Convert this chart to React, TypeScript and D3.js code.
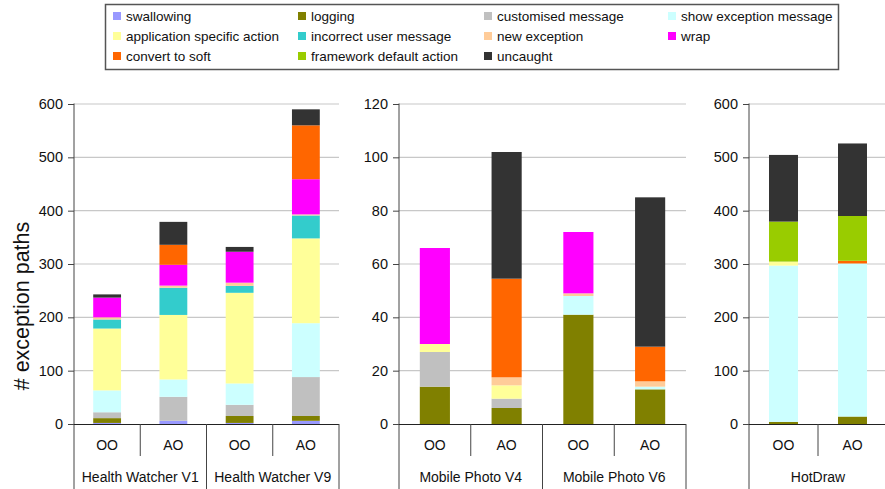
import React, { useRef, useEffect } from 'react'
import * as d3 from 'd3'

// series, bottom to top of each stack
const seriesNames = [
  'swallowing', 'logging', 'customised message', 'show exception message',
  'application specific action', 'incorrect user message', 'new exception', 'wrap',
  'convert to soft', 'framework default action', 'uncaught'
]
const seriesColors = [
  '#9999ff', '#808000', '#c0c0c0', '#ccffff',
  '#ffff99', '#33cccc', '#ffcc99', '#ff00ff',
  '#ff6600', '#99cc00', '#333333'
]

// bars: HW V1 OO/AO, HW V9 OO/AO, MP V4 OO/AO, MP V6 OO/AO, HotDraw OO/AO
const barLabels = ['OO', 'AO', 'OO', 'AO', 'OO', 'AO', 'OO', 'AO', 'OO', 'AO']
const groupLabels = ['Health Watcher V1', 'Health Watcher V9', 'Mobile Photo V4', 'Mobile Photo V6', 'HotDraw']

const swallowing = [2, 6, 2, 6, 0, 0, 0, 0, 0, 0]
const logging = [9, 0, 13, 9, 14, 6, 41, 13, 4, 14]
const customised = [11, 45, 21, 73, 13, 3.5, 0, 0, 0, 0]
const showException = [41, 32.5, 40, 101, 0, 0, 7, 1, 293, 287]
const appSpecific = [116, 121, 170, 159, 3, 5, 0, 0, 7.5, 0]
const incorrectUser = [17, 51, 13, 43, 0, 0, 0, 0, 0, 0]
const newException = [4, 4, 6, 2, 0, 3, 1, 2, 0, 0]
const wrap = [37, 39, 58, 66, 36, 0, 23, 0, 0, 0]
const convertToSoft = [0, 37.5, 0, 101, 0, 37, 0, 13, 0, 5]
const frameworkDefault = [0, 0, 0, 0, 0, 0, 0, 0, 75, 84]
const uncaught = [6, 43, 9, 30, 0, 47.5, 0, 56, 125, 136]

const seriesValues = [
  swallowing, logging, customised, showException, appSpecific, incorrectUser,
  newException, wrap, convertToSoft, frameworkDefault, uncaught
]

const yMax = [600, 120, 600]
const yStep = [100, 20, 100]

// layout
const W = 885
const H = 489
const plotTop = 104
const plotBottom = 424
const font = '"Liberation Sans", Arial, Helvetica, sans-serif'
const panels = [
  { first: 0, count: 4, x0: 74, x1: 339 },
  { first: 4, count: 4, x0: 399, x1: 686 },
  { first: 8, count: 2, x0: 749, x1: 887 }
]

export default function App() {
  const ref = useRef<SVGSVGElement>(null)

  useEffect(() => {
    const svg = d3.select(ref.current)
    svg.selectAll('*').remove()

    // one row per bar for the stack
    const table = barLabels.map((_, i) => {
      const row: any = {}
      seriesNames.forEach((s, j) => { row[s] = seriesValues[j][i] })
      return row
    })
    const stacked = d3.stack().keys(seriesNames)(table)

    panels.forEach((p, pi) => {
      const g = svg.append('g')
      const idx = d3.range(p.first, p.first + p.count)

      const y = d3.scaleLinear().domain([0, yMax[pi]]).range([plotBottom, plotTop])
      const x = d3.scaleBand<number>()
        .domain(idx)
        .range([p.x0, p.x1])
        .paddingInner(0.58)
        .paddingOuter(0.29)

      const ticks = d3.range(0, yMax[pi] + 1, yStep[pi])

      // gridlines
      g.selectAll('.grid')
        .data(ticks.slice(1))
        .join('line')
        .attr('x1', p.x0)
        .attr('x2', Math.min(p.x1, W))
        .attr('y1', d => y(d))
        .attr('y2', d => y(d))
        .attr('stroke', '#c8c8c8')
        .attr('stroke-width', 1.2)

      // stacked bars
      stacked.forEach((layer, j) => {
        g.append('g')
          .attr('fill', seriesColors[j])
          .selectAll('rect')
          .data(idx.map(i => ({ i, d: layer[i] })))
          .join('rect')
          .attr('x', d => x(d.i)!)
          .attr('width', x.bandwidth())
          .attr('y', d => y(d.d[1]))
          .attr('height', d => y(d.d[0]) - y(d.d[1]))
      })

      // y axis
      const yAxis = d3.axisLeft(y).tickValues(ticks).tickSize(6).tickPadding(5).tickSizeOuter(0)
      const gy = g.append('g').attr('transform', `translate(${p.x0},0)`).call(yAxis)
      gy.select('.domain').remove()
      gy.selectAll('.tick line').attr('stroke', '#444')
      gy.selectAll('.tick text')
        .attr('font-family', font)
        .attr('font-size', 14.5)
        .attr('fill', '#111')
      g.append('line')
        .attr('x1', p.x0).attr('x2', p.x0)
        .attr('y1', plotTop - 0.5).attr('y2', H)
        .attr('stroke', '#444')

      // x axis
      g.append('line')
        .attr('x1', p.x0).attr('x2', p.x1)
        .attr('y1', plotBottom + 0.5).attr('y2', plotBottom + 0.5)
        .attr('stroke', '#222')

      const step = x.step()
      idx.forEach((i, k) => {
        const xe = p.x0 + step * (k + 1)
        const long = k % 2 === 1
        g.append('line')
          .attr('x1', xe).attr('x2', xe)
          .attr('y1', plotBottom).attr('y2', long ? H : 456)
          .attr('stroke', '#444')
        g.append('text')
          .attr('x', x(i)! + x.bandwidth() / 2)
          .attr('y', 450)
          .attr('text-anchor', 'middle')
          .attr('font-family', font)
          .attr('font-size', 14)
          .attr('fill', '#111')
          .text(barLabels[i])
      })

      // group labels
      for (let k = 0; k < p.count; k += 2) {
        const gi = (p.first + k) / 2
        g.append('text')
          .attr('x', p.x0 + step * (k + 1))
          .attr('y', 482)
          .attr('text-anchor', 'middle')
          .attr('font-family', font)
          .attr('font-size', 14)
          .attr('fill', '#111')
          .text(groupLabels[gi])
      }
    })

    // y label
    svg.append('text')
      .attr('transform', 'translate(22,306) rotate(-90)')
      .attr('text-anchor', 'middle')
      .attr('dominant-baseline', 'central')
      .attr('font-family', font)
      .attr('font-size', 21.5)
      .attr('fill', '#111')
      .text('# exception paths')

    // legend
    const lg = svg.append('g')
    lg.append('rect')
      .attr('x', 105.5).attr('y', 4.5)
      .attr('width', 733).attr('height', 65)
      .attr('fill', 'white')
      .attr('stroke', '#555')
      .attr('stroke-width', 1.5)
    const colX = [113, 298, 484, 668]
    const rowY = [16, 36, 56]
    seriesNames.forEach((s, j) => {
      const cx = colX[j % 4]
      const cy = rowY[Math.floor(j / 4)]
      lg.append('rect')
        .attr('x', cx).attr('y', cy - 4)
        .attr('width', 8).attr('height', 8)
        .attr('fill', seriesColors[j])
      lg.append('text')
        .attr('x', cx + 13)
        .attr('y', cy)
        .attr('dominant-baseline', 'central')
        .attr('font-family', font)
        .attr('font-size', 13.5)
        .attr('fill', '#111')
        .text(s)
    })

    return () => {
      svg.selectAll('*').remove()
    }
  }, [])

  return (
    <svg
      ref={ref}
      width={W}
      height={H}
      style={{ position: 'absolute', left: 0, top: 0, background: 'white' }}
    />
  )
}
